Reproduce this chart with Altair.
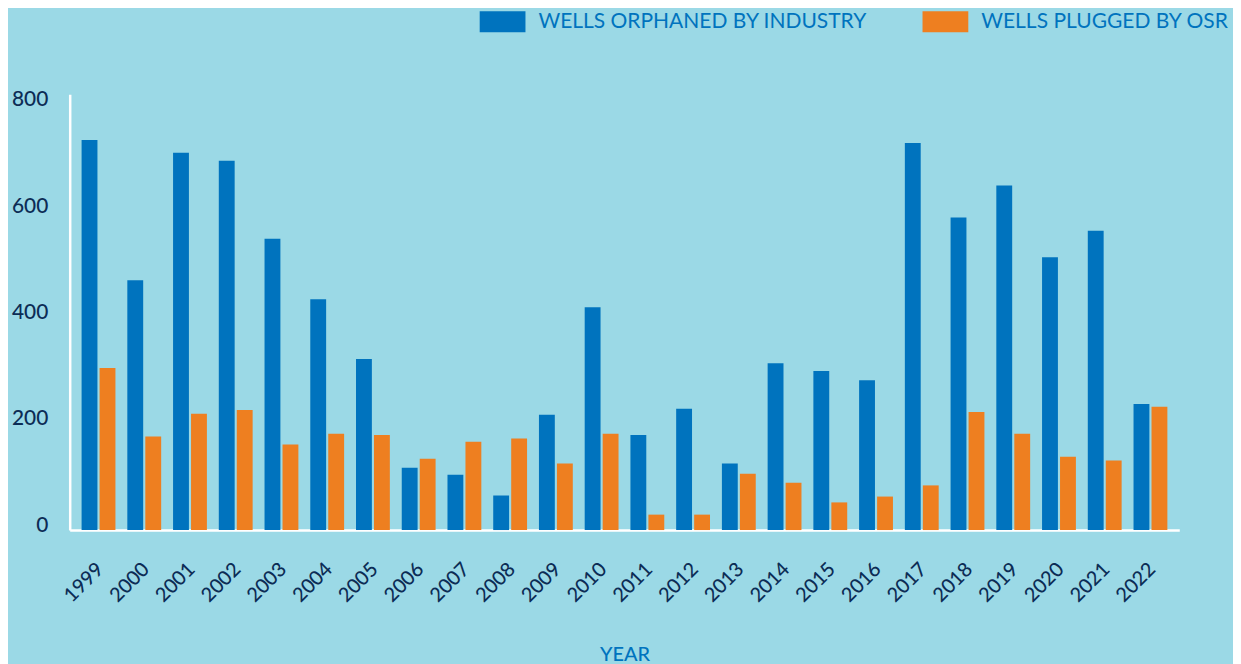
import altair as alt
import pandas as pd

years = ["1999", "2000", "2001", "2002", "2003", "2004", "2005", "2006", "2007", "2008",
         "2009", "2010", "2011", "2012", "2013", "2014", "2015", "2016", "2017", "2018",
         "2019", "2020", "2021", "2022"]
orphaned = [734, 470, 710, 695, 548, 434, 322, 117, 104, 65, 217, 419,
            179, 228, 125, 314, 299, 282, 728, 588, 648, 513, 563, 237]
plugged = [305, 176, 219, 226, 161, 181, 179, 134, 166, 172, 125, 181,
           29, 29, 106, 89, 52, 63, 84, 222, 181, 138, 131, 232]
series_names = ["WELLS ORPHANED BY INDUSTRY", "WELLS PLUGGED BY OSR"]
series_colors = ["#0073be", "#ee7f20"]
y_ticks = [0, 200, 400, 600, 800]

rows = []
for i, yr in enumerate(years):
    rows.append({"year": yr, "series": series_names[0], "value": orphaned[i]})
    rows.append({"year": yr, "series": series_names[1], "value": plugged[i]})
df = pd.DataFrame(rows)

FONT = "Lato"
NAVY = "#0c2c55"
BLUE = "#0073be"

chart = alt.Chart(df).mark_bar().encode(
    x=alt.X(
        "year:N",
        sort=years,
        scale=alt.Scale(paddingInner=0.26, paddingOuter=0.26),
        axis=alt.Axis(
            title="YEAR",
            labelAngle=-45,
            labelAlign="right",
            labelBaseline="middle",
            labelFont=FONT,
            labelFontSize=20,
            labelFontWeight=500,
            labelColor=NAVY,
            labelPadding=36,
            labelOffset=2,
            ticks=False,
            tickSize=0,
            domainColor="white",
            domainWidth=2.5,
            titleFont=FONT,
            titleFontSize=20,
            titleFontWeight=500,
            titleColor=BLUE,
            titleY=131,
            titleBaseline="alphabetic",
        ),
    ),
    xOffset=alt.XOffset(
        "series:N",
        sort=series_names,
        scale=alt.Scale(paddingInner=0.118, paddingOuter=0),
    ),
    y=alt.Y(
        "value:Q",
        scale=alt.Scale(domain=[0, 820], nice=False),
        axis=alt.Axis(
            title=None,
            values=y_ticks,
            labelFont=FONT,
            labelFontSize=21,
            labelFontWeight=500,
            labelColor=NAVY,
            labelPadding=22,
            labelOffset=-5,
            ticks=False,
            tickSize=0,
            domainColor="white",
            domainWidth=2.5,
        ),
    ),
    color=alt.Color(
        "series:N",
        sort=series_names,
        scale=alt.Scale(domain=series_names, range=series_colors),
        legend=alt.Legend(
            title=None,
            orient="none",
            legendX=412,
            legendY=-96,
            direction="horizontal",
            symbolType="M-1,-0.4565H1V0.4565H-1Z",
            symbolSize=2116,
            symbolStrokeWidth=0,
            labelFont=FONT,
            labelFontSize=21.1,
            labelColor=BLUE,
            labelOffset=13,
            labelLimit=600,
            columnPadding=55,
        ),
    ),
).properties(
    width=1115,
    height=438,
    background="#9bd9e6",
    padding={"left": 62, "top": 85, "right": 54, "bottom": 133},
    autosize=alt.AutoSizeParams(type="none"),
).configure_view(
    stroke=None
).configure_axis(
    grid=False
)

chart.save("out.html", embed_options={"renderer": "svg", "actions": False})
